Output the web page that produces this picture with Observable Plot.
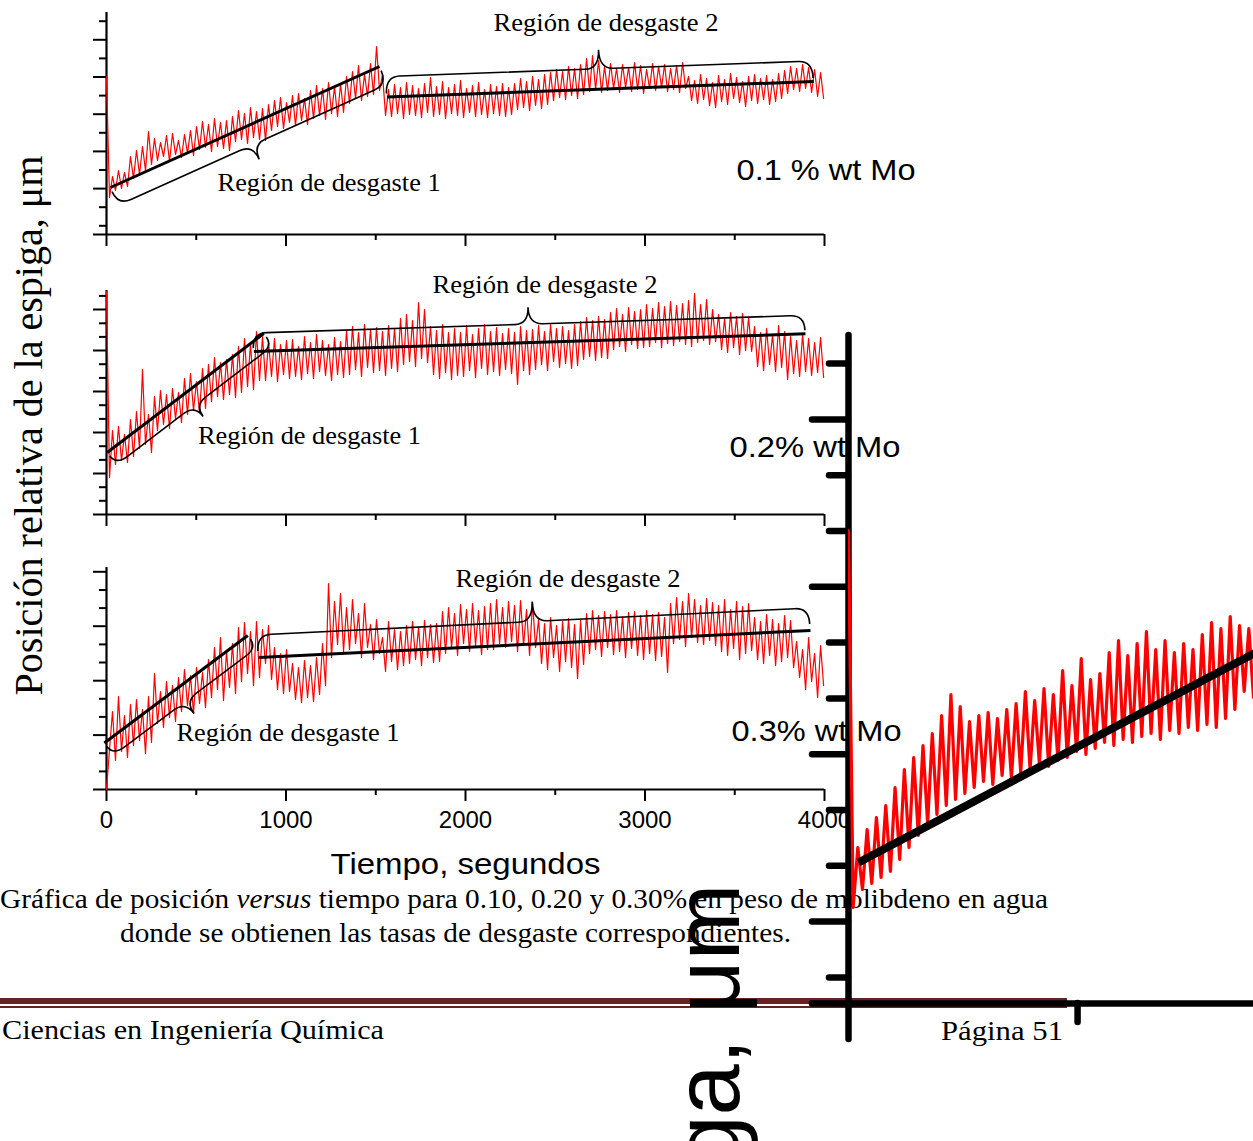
<!DOCTYPE html>
<html><head><meta charset="utf-8">
<script src="https://cdn.jsdelivr.net/npm/d3@7"></script>
<script src="https://cdn.jsdelivr.net/npm/@observablehq/plot@0.6"></script>
<style>
html,body{margin:0;padding:0;background:#fff;overflow:hidden}
#page{position:relative;width:1253px;height:1141px;overflow:hidden;background:#fff}
#page svg{position:absolute;left:0;top:0}
.txt{position:absolute;white-space:nowrap;font-family:"Liberation Serif","Times New Roman",serif;color:#000;transform-origin:0 50%;line-height:1}
.band{position:absolute;left:0;background:#632523}
</style></head><body><div id="page"></div>
<script>
// ---------------- DATA ----------------
const xLabel = "Tiempo, segundos";
const yLabel = "Posición relativa de la espiga, μm";
const xMajor = [0, 1000, 2000, 3000, 4000];
const xMinor = [500, 1500, 2500, 3500];
const duration = 3995;            // s, length of each record
const bigDuration = 884;          // s, visible part of the enlarged record

// panel 1 : 0.1 % wt Mo  (alternating peak / trough readings)
const p1Peaks = [158,58,64,62,78,84,88,103,96,92,99,101,94,100,104,108,113,110,116,112,114,118,124,121,127,123,126,130,134,137,132,139,141,136,144,149,146,152,148,151,158,163,169,160,171,188,160,145,150,147,152,149,146,151,157,148,153,147,150,154,146,149,152,145,150,148,151,147,151,156,153,158,155,160,162,165,163,168,166,170,176,179,174,168,171,166,170,167,172,169,165,171,168,170,166,169,172,158,154,160,156,152,159,155,161,157,153,158,160,156,159,155,161,164,168,166,170,167,165,162];
const p1Troughs = [37,44,46,48,56,60,64,70,74,78,73,80,77,81,79,85,87,83,88,86,84,93,95,91,97,95,94,104,108,106,112,109,114,110,116,119,115,121,118,122,131,136,134,138,140,144,119,118,121,116,120,119,117,122,118,120,116,121,119,117,122,118,120,117,121,119,118,120,125,127,124,129,126,130,134,137,135,139,136,140,143,145,142,144,146,142,147,143,145,141,146,144,147,143,145,142,146,134,131,135,129,127,133,130,136,132,128,134,131,135,130,133,136,141,145,143,146,142,138,136];
const p1Fits = [
  {region: 1, x1: 22, y1: 47, x2: 1521, y2: 168},
  {region: 2, x1: 1563, y1: 137.5, x2: 3940, y2: 153}
];
const p1Regions = [
  {x: 2783, y: 212, text: "Región de desgaste 2"},
  {x: 1240, y: 52, text: "Región de desgaste 1"}
];
const p1Sample = [{x: 3510, y: 64, text: "0.1 % wt Mo"}];
const p1Ticks = [8.7, 27.3, 45.9, 64.5, 83.1, 101.7, 120.3, 138.9, 157.5, 176.1, 194.7, 213.3];
const p1Long = [0, 45.9, 83.1, 120.3, 157.5, 194.7];

// panel 2 : 0.2 % wt Mo
const p2Peaks = [223,84,88,80,95,103,145,100,118,124,120,126,122,136,141,133,146,150,157,152,155,160,168,176,171,183,178,172,176,170,174,175,168,178,172,180,174,170,177,173,184,188,182,190,185,187,183,189,186,196,200,194,212,205,188,184,190,182,186,182,189,180,186,190,183,187,181,186,182,188,184,185,189,183,190,186,188,184,190,193,197,194,198,195,202,206,200,207,203,205,210,206,212,208,213,209,211,214,221,210,215,205,200,196,202,198,201,197,188,182,186,180,189,183,178,174,180,176,172,177];
const p2Troughs = [37,50,54,52,58,66,70,62,84,90,86,96,92,100,104,102,106,113,118,115,120,117,122,128,125,134,134,138,133,140,136,138,135,141,136,143,139,134,140,137,140,145,138,147,142,144,139,146,143,150,153,148,156,152,140,136,142,135,139,138,144,137,146,140,143,139,145,141,130,144,140,145,150,144,153,147,151,146,149,155,158,154,157,156,165,168,163,170,166,167,168,172,167,171,169,173,170,168,172,174,170,173,165,162,167,160,164,163,148,144,150,143,147,135,141,138,143,139,142,137];
const p2Fits = [
  {region: 1, x1: 4, y1: 62, x2: 876, y2: 181},
  {region: 2, x1: 821, y1: 163, x2: 3894, y2: 180.7}
];
const p2Regions = [
  {x: 2443, y: 230, text: "Región de desgaste 2"},
  {x: 1131, y: 79, text: "Región de desgaste 1"}
];
const p2Sample = [{x: 3471, y: 67, text: "0.2% wt Mo"}];
const p2Ticks = [13.7, 27.3, 41, 54.6, 68.3, 82, 95.6, 109.3, 123, 136.6, 150.3, 164, 177.6, 191.2, 205, 218.6];
const p2Long = [0, 41, 82, 123, 164, 205];

// panel 3 : 0.3 % wt Mo
const p3Peaks = [0,78,93,74,85,90,80,93,116,98,108,104,112,120,114,122,117,130,142,152,138,146,162,167,158,168,160,164,142,136,140,126,122,129,124,132,146,206,188,196,182,190,176,186,165,170,152,168,160,158,164,168,162,169,165,166,178,182,176,185,180,186,179,183,186,190,182,188,184,189,180,187,170,166,172,164,168,171,165,169,176,179,174,178,175,179,173,177,178,174,179,175,177,172,186,192,188,196,190,184,191,187,184,190,180,188,183,186,172,168,175,170,166,174,169,148,140,152,136,144];
const p3Troughs = [40,29,38,32,44,49,36,47,66,62,72,68,78,84,76,86,82,92,100,89,102,96,108,116,104,112,126,110,100,96,98,90,87,92,88,95,104,132,145,138,140,146,132,142,130,136,118,128,120,124,126,130,124,132,127,128,136,142,134,146,138,144,135,140,140,146,142,148,138,144,134,142,126,120,132,118,128,122,111,125,136,140,133,142,135,138,132,141,134,130,136,129,133,117,146,150,143,152,147,145,149,144,138,134,141,130,136,139,130,126,134,124,128,132,122,112,100,108,92,104];
const p3Fits = [
  {region: 1, x1: -12, y1: 46.5, x2: 787, y2: 154},
  {region: 2, x1: 848, y1: 132, x2: 3922, y2: 159}
];
const p3Regions = [
  {x: 2571, y: 211, text: "Región de desgaste 2"},
  {x: 1011, y: 57, text: "Región de desgaste 1"}
];
const p3Sample = [{x: 3482, y: 58, text: "0.3% wt Mo"}];
const p3Ticks = [18.1, 36.3, 54.4, 72.6, 90.7, 108.8, 127, 145.1, 163.3, 181.4, 199.5, 217.7];
const p3Long = [0, 54.4, 108.8, 163.3, 217.7];

// enlarged view of the start of the 0.1 % record
const bigPeaks = [157.6,52,58,62,66,72,78,82,86,90,96,103,99,94,96,97,95,98,100,104,101,105,103,111,106,115,108,110,117,121,116,120,124,118,121,117,120,118,123,127,125,129,126,125];
const bigTroughs = [32,38,40,42,44,48,52,56,60,63,66,68,70,72,74,73,76,75,77,78,80,79,81,82,84,83,85,87,86,88,87,89,90,88,91,90,92,91,93,92,95,98,104,102];
const bigLong = [0, 27.3, 83.1, 138.9, 194.7];
const bigShort = [8.7, 45.9, 64.5, 101.7, 120.3, 157.5, 176.1, 213.3];
const bigXMajor = [0];
const bigXMinor = [500];

// ---------------- DRAWING ----------------
const W = 1253, H = 1141;
const RED = "#ff0000";
const SANS = "Liberation Sans, Arial, sans-serif";
const SERIF = "Liberation Serif, Times New Roman, serif";
const page = document.getElementById("page");

function zig(peaks, troughs, dur) {
  const v = peaks.flatMap((p, i) => [p, troughs[i]]);
  const dt = dur / (v.length - 1);
  return v.map((y, k) => ({t: k * dt, v: y}));
}

function bracePath(A, B, side, e, d, h) {
  const dx = B[0] - A[0], dy = B[1] - A[1], L = Math.hypot(dx, dy);
  const u = [dx / L, dy / L], n = [-u[1] * side, u[0] * side];
  const P = (p, a, b) => [p[0] + u[0] * a + n[0] * b, p[1] + u[1] * a + n[1] * b];
  const P1 = P(A, 0, e), P2 = P(B, 0, e);
  const M = [(P1[0] + P2[0]) / 2, (P1[1] + P2[1]) / 2];
  const r = Math.min(14, L / 8);
  const f = p => p[0].toFixed(1) + "," + p[1].toFixed(1);
  return `M${f(P1)}Q${f(P(P1,0,d))} ${f(P(P1,r,d))}L${f(P(M,-r,d))}Q${f(P(M,0,d))} ${f(P(M,0,h))}` +
         `Q${f(P(M,0,d))} ${f(P(M,r,d))}L${f(P(P2,-r,d))}Q${f(P(P2,0,d))} ${f(P2)}`;
}

const textWidths = {
  "Región de desgaste 1": 223, "Región de desgaste 2": 225,
  "0.1 % wt Mo": 179, "0.2% wt Mo": 171, "0.3% wt Mo": 170,
  "Tiempo, segundos": 270
};
textWidths[yLabel] = 540;

function fitTexts(svg) {
  svg.querySelectorAll("text").forEach(t => {
    const w = textWidths[t.textContent];
    if (w) { t.setAttribute("textLength", w); t.setAttribute("lengthAdjust", "spacingAndGlyphs"); }
  });
}

function panel(o) {
  const plot = Plot.plot({
    width: W, height: H,
    marginLeft: 106, marginRight: W - 824, marginTop: o.top, marginBottom: H - o.bottom,
    x: {domain: [0, 4000]},
    y: {domain: [0, o.yMax]},
    style: {background: "transparent", fontFamily: SANS, color: "black"},
    marks: [
      Plot.axisY({ticks: o.long, tickSize: 13, strokeWidth: 2, fill: "none", label: null}),
      Plot.axisY({ticks: o.ticks.filter(v => !o.long.includes(v)), tickSize: 7, strokeWidth: 2, fill: "none", label: null}),
      Plot.axisX({ticks: xMajor, tickSize: 12, strokeWidth: 2, fill: o.tickLabels ? "black" : "none", fontSize: 24, tickPadding: 9, tickFormat: "d", label: null}),
      Plot.axisX({ticks: xMinor, tickSize: 6, strokeWidth: 2, fill: "none", label: null}),
      Plot.ruleX([0], {strokeWidth: 2.2}),
      Plot.ruleY([0], {strokeWidth: 2.2}),
      Plot.line(zig(o.peaks, o.troughs, duration), {x: "t", y: "v", stroke: RED, strokeWidth: 1.2}),
      Plot.link(o.fits, {x1: "x1", y1: "y1", x2: "x2", y2: "y2", stroke: "black", strokeWidth: 3}),
      Plot.text(o.regions, {x: "x", y: "y", text: "text", fontFamily: SERIF, fontSize: 26}),
      Plot.text(o.sample, {x: "x", y: "y", text: "text", textAnchor: "start", fontSize: 29}),
      ...(o.extra || [])
    ]
  });
  const sx = plot.scale("x"), sy = plot.scale("y");
  const g = d3.select(plot).append("g").attr("fill", "none").attr("stroke", "black").attr("stroke-width", 1.6);
  o.fits.forEach(f => {
    const b = o.brace[f.region];
    const A = [sx.apply(f.x1), sy.apply(f.y1)], B = [sx.apply(f.x2), sy.apply(f.y2)];
    g.append("path").attr("d", bracePath(A, B, f.region === 1 ? 1 : -1, b.e, b.d, b.h));
  });
  fitTexts(plot);
  page.appendChild(plot);
}

panel({top: 12, bottom: 234, yMax: 222, peaks: p1Peaks, troughs: p1Troughs, fits: p1Fits,
  regions: p1Regions, sample: p1Sample, ticks: p1Ticks, long: p1Long,
  brace: {1: {e: 5, d: 15, h: 31}, 2: {e: 3, d: 17, h: 36}}});

panel({top: 290, bottom: 514, yMax: 224, peaks: p2Peaks, troughs: p2Troughs, fits: p2Fits,
  regions: p2Regions, sample: p2Sample, ticks: p2Ticks, long: p2Long,
  brace: {1: {e: 5, d: 11, h: 25}, 2: {e: 3, d: 15, h: 32}},
  extra: [Plot.text([yLabel], {frameAnchor: "left", text: d => d, rotate: -90, textAnchor: "middle", dx: -77, dy: 23, fontFamily: SERIF, fontSize: 39})]});

panel({top: 567, bottom: 789, yMax: 222, peaks: p3Peaks, troughs: p3Troughs, fits: p3Fits,
  regions: p3Regions, sample: p3Sample, ticks: p3Ticks, long: p3Long, tickLabels: true,
  brace: {1: {e: 5, d: 11, h: 26}, 2: {e: 6, d: 16, h: 36}},
  extra: [Plot.text([xLabel], {frameAnchor: "bottom", text: d => d, dy: 84, fontSize: 29})]});

// caption and page footer
function htmlText(html, left, cy, width, size) {
  const d = document.createElement("div");
  d.className = "txt"; d.innerHTML = html;
  d.style.left = left + "px"; d.style.top = (cy - size / 2) + "px"; d.style.fontSize = size + "px";
  page.appendChild(d);
  const w0 = d.getBoundingClientRect().width;
  d.style.transform = `scaleX(${width / w0})`;
}
htmlText("Gráfica de posición <i>versus</i> tiempo para 0.10, 0.20 y 0.30% en peso de molibdeno en agua", 0, 899, 1048, 28);
htmlText("donde se obtienen las tasas de desgaste correspondientes.", 120, 933, 671, 28);
htmlText("Ciencias en Ingeniería Química", 2, 1030, 382, 28);
htmlText("Página 51", 941, 1031, 122, 28);
for (const [top, h] of [[998, 5.5], [1006, 1.8]]) {
  const b = document.createElement("div"); b.className = "band";
  b.style.top = top + "px"; b.style.height = h + "px"; b.style.width = "1067px";
  page.appendChild(b);
}

// enlarged overlapping view
const big = Plot.plot({
  width: W, height: H,
  marginLeft: 848, marginRight: 0, marginTop: 335, marginBottom: H - 1003,
  x: {domain: [0, bigDuration]},
  y: {domain: [0, 222.67]},
  style: {background: "transparent", fontFamily: SANS, color: "black"},
  marks: [
    Plot.text([yLabel], {frameAnchor: "left", text: d => d, rotate: -90, textAnchor: "end", dx: -139, dy: 214, fontSize: 92}),
    Plot.axisY({ticks: bigLong, tickSize: 36, strokeWidth: 6.5, strokeLinecap: "round", fill: "none", label: null}),
    Plot.axisY({ticks: bigShort, tickSize: 19, strokeWidth: 6.5, strokeLinecap: "round", fill: "none", label: null}),
    Plot.axisX({ticks: bigXMajor, tickSize: 36, strokeWidth: 6.5, strokeLinecap: "round", fill: "none", label: null}),
    Plot.axisX({ticks: bigXMinor, tickSize: 19, strokeWidth: 6.5, strokeLinecap: "round", fill: "none", label: null}),
    Plot.ruleX([0], {strokeWidth: 6.5, strokeLinecap: "round"}),
    Plot.ruleY([0], {strokeWidth: 6.5}),
    Plot.line(zig(bigPeaks, bigTroughs, bigDuration), {x: "t", y: "v", stroke: RED, strokeWidth: 3.2, clip: true}),
    Plot.link(p1Fits.filter(f => f.region === 1), {x1: "x1", y1: "y1", x2: "x2", y2: "y2", stroke: "black", strokeWidth: 8, clip: true})
  ]
});
page.appendChild(big);
</script></body></html>
